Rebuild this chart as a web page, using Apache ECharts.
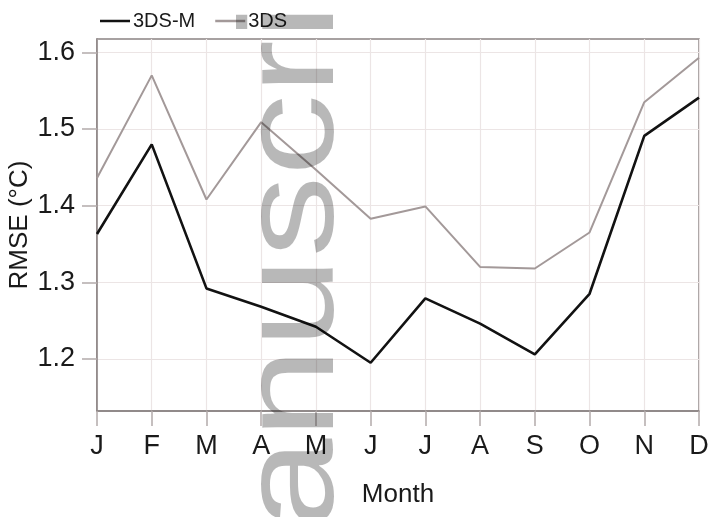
<!DOCTYPE html>
<html>
<head>
<meta charset="utf-8">
<script src="https://cdn.jsdelivr.net/npm/echarts@6/dist/echarts.min.js"></script>
<style>
  html, body { margin: 0; padding: 0; background: #ffffff; }
  #chart { width: 717px; height: 517px; }
</style>
</head>
<body>
<div id="chart"></div>
<script>
// Monthly RMSE of two downscaling methods
const months = ['J', 'F', 'M', 'A', 'M', 'J', 'J', 'A', 'S', 'O', 'N', 'D'];
const rmse3dsm = [1.363, 1.480, 1.292, 1.268, 1.242, 1.195, 1.279, 1.246, 1.206, 1.285, 1.491, 1.541];
const rmse3ds  = [1.436, 1.570, 1.408, 1.509, 1.447, 1.383, 1.399, 1.320, 1.318, 1.365, 1.535, 1.593];
const yTicks = [1.2, 1.3, 1.4, 1.5, 1.6];
const seriesNames = ['3DS-M', '3DS'];
const watermarkText = 'Manuscript';

const font = 'Liberation Sans, Arial, Helvetica, sans-serif';
const frameColor = '#8a8282';
const gridColor = '#ece5e5';
const tickColor = '#b3abab';
const blackLine = '#121212';
const grayLine = '#a39999';

const chart = echarts.init(document.getElementById('chart'), null, { renderer: 'canvas' });

chart.setOption({
  backgroundColor: '#ffffff',
  animation: false,
  legend: {
    left: 95,
    top: 6,
    icon: 'rect',
    itemWidth: 30,
    itemHeight: 2.5,
    itemGap: 20,
    textStyle: { fontFamily: font, fontSize: 20, color: '#1a1a1a', padding: [0, 0, 0, -2] },
    data: [
      { name: seriesNames[0], itemStyle: { color: blackLine } },
      { name: seriesNames[1], itemStyle: { color: grayLine } }
    ]
  },
  grid: {
    left: 97, right: 18, top: 39, bottom: 106,
    outerBoundsMode: 'none',
    containLabel: false,
    show: true,
    borderColor: frameColor,
    borderWidth: 1.5,
    backgroundColor: 'transparent'
  },
  xAxis: {
    type: 'category',
    data: months,
    boundaryGap: false,
    name: 'Month',
    nameLocation: 'middle',
    nameGap: 71,
    nameMoveOverlap: false,
    nameTextStyle: { fontFamily: font, fontSize: 26, color: '#1a1a1a' },
    axisLine: { show: true, lineStyle: { color: frameColor, width: 1.5 } },
    axisTick: { show: true, inside: false, interval: 0, length: 15, lineStyle: { color: tickColor, width: 1.5 } },
    axisLabel: { fontFamily: font, fontSize: 27, color: '#1a1a1a', margin: 22, interval: 0 },
    splitLine: { show: true, interval: 0, lineStyle: { color: gridColor, width: 1.2 } }
  },
  yAxis: {
    type: 'value',
    min: 1.132,
    max: 1.6175,
    name: 'RMSE (°C)',
    nameLocation: 'middle',
    nameGap: 64,
    nameMoveOverlap: false,
    nameRotate: 90,
    nameTextStyle: { fontFamily: font, fontSize: 26, color: '#1a1a1a' },
    axisLine: { show: true, lineStyle: { color: frameColor, width: 1.5 } },
    axisTick: { show: true, inside: false, length: 15, customValues: yTicks, lineStyle: { color: tickColor, width: 1.5 } },
    axisLabel: {
      fontFamily: font, fontSize: 27, color: '#1a1a1a', margin: 22,
      customValues: yTicks,
      formatter: v => v.toFixed(1)
    },
    splitLine: { show: true, lineStyle: { color: gridColor, width: 1.2 } }
  },
  series: [
    {
      name: seriesNames[0],
      type: 'line',
      data: rmse3dsm,
      symbol: 'none',
      z: 3,
      lineStyle: { color: blackLine, width: 2.6 },
      itemStyle: { color: blackLine }
    },
    {
      name: seriesNames[1],
      type: 'line',
      data: rmse3ds,
      symbol: 'none',
      z: 2,
      lineStyle: { color: grayLine, width: 2 },
      itemStyle: { color: grayLine }
    }
  ],
  graphic: [
    {
      type: 'text',
      x: 296,
      y: 665,
      rotation: Math.PI / 2,
      scaleX: 1,
      scaleY: 0.82,
      z: 100,
      silent: true,
      style: {
        text: watermarkText,
        font: '163px "Liberation Sans", Arial, sans-serif',
        fill: 'rgba(0,0,0,0.28)',
        align: 'left',
        verticalAlign: 'middle'
      }
    }
  ]
});
</script>
</body>
</html>
